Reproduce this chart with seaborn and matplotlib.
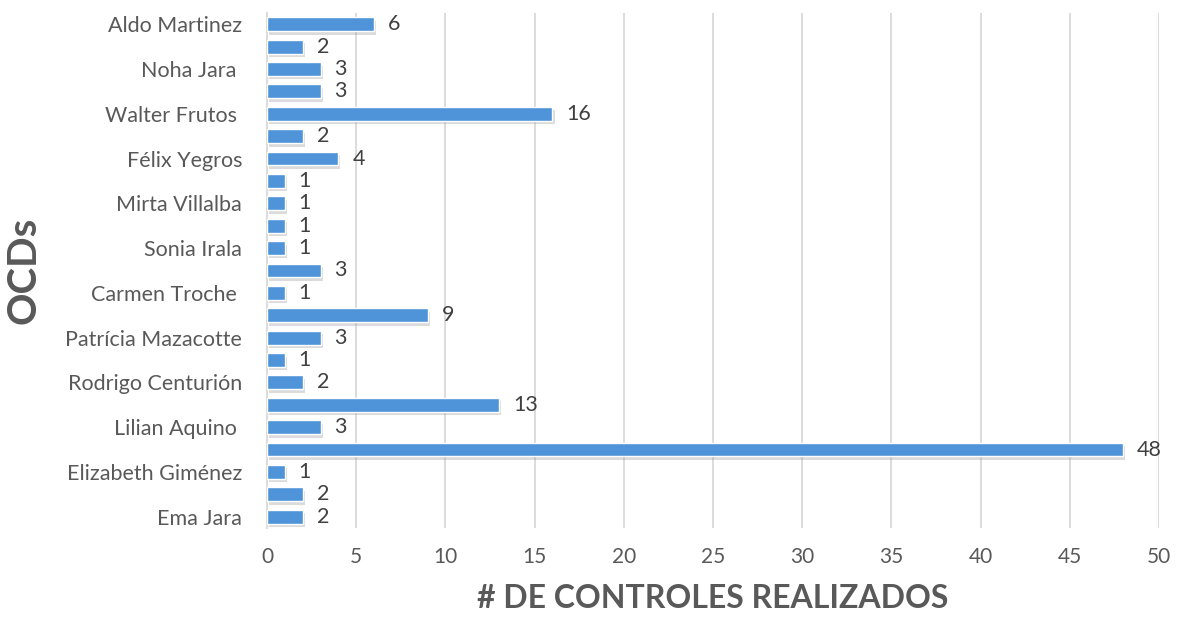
import pandas as pd
import seaborn as sns
import matplotlib.pyplot as plt
import matplotlib.patheffects as pe

# data, top to bottom as in the chart (every other name is not shown on the axis)
ocd_names = ['Aldo Martinez', '', 'Noha Jara ', '', 'Walter Frutos ', '',
             'Félix Yegros', '', 'Mirta Villalba', '', 'Sonia Irala', '',
             'Carmen Troche ', '', 'Patrícia Mazacotte', '', 'Rodrigo Centurión', '',
             'Lilian Aquino ', '', 'Elizabeth Giménez', '', 'Ema Jara']
controles = [6, 2, 3, 3, 16, 2, 4, 1, 1, 1, 1, 3, 1, 9, 3, 1, 2, 13, 3, 48, 1, 2, 2]

xticks = [0, 5, 10, 15, 20, 25, 30, 35, 40, 45, 50]

df = pd.DataFrame({'key': [f'{i}_{n}' for i, n in enumerate(ocd_names)],
                   'name': ocd_names,
                   'controles': controles})

sns.set_theme(style='white')
plt.rcParams['font.family'] = ['Lato', 'DejaVu Sans']

fig = plt.figure(figsize=(11.79, 6.21), dpi=100)
ax = fig.add_axes([0.2265, 0.150, 0.7565, 0.829])

sns.barplot(data=df, x='controles', y='key', orient='h', color='#4F93D8',
            saturation=1, width=0.62, ax=ax, zorder=3)

shadow = [pe.SimplePatchShadow(offset=(1.5, -2.5), shadow_rgbFace='#9A9A9A', alpha=0.35),
          pe.Normal()]
for bar in ax.patches:
    bar.set_path_effects(shadow)

for i, v in enumerate(controles):
    ax.annotate(str(v), xy=(v, i), xytext=(10, 0), textcoords='offset points',
                va='center', ha='left', fontsize=15.5, color='#404040')

ax.set_xlim(0, 50)
ax.set_xticks(xticks)
ax.set_yticks(range(len(ocd_names)))
ax.set_yticklabels(ocd_names)
ax.tick_params(axis='x', labelsize=15, labelcolor='#595959', length=0, pad=14)
ax.tick_params(axis='y', labelsize=15.5, labelcolor='#595959', length=0, pad=18)

ax.grid(axis='x', color='#D9D9D9', linewidth=1.3, zorder=0)
ax.set_axisbelow(True)
for s in ['top', 'right', 'bottom']:
    ax.spines[s].set_visible(False)
ax.spines['left'].set_color('#D9D9D9')
ax.spines['left'].set_linewidth(1.3)

ax.set_xlabel('# DE CONTROLES REALIZADOS', fontsize=23, fontweight='bold',
              color='#595959', labelpad=12)
ax.set_ylabel('OCDs', fontsize=29, fontweight='bold', color='#595959', labelpad=16)

fig.savefig('out.png', dpi=100)
